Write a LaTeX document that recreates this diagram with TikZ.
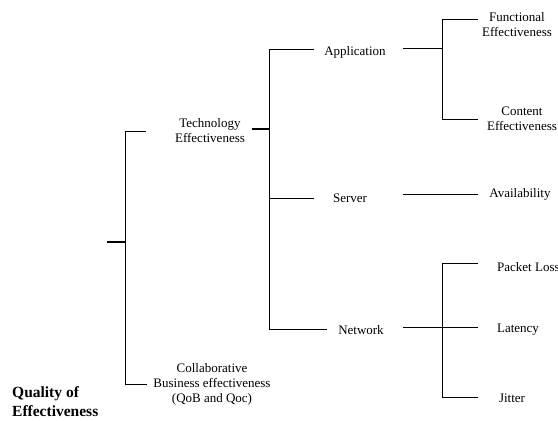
\documentclass[tikz,border=0pt]{standalone}
\usepackage{fontspec}
\setmainfont{Liberation Serif}
\begin{document}
\begin{tikzpicture}[x=1pt,y=-1pt,
  lbl/.style={font=\fontsize{13}{15}\selectfont, align=center, inner sep=0pt},
  ttl/.style={font=\fontsize{15.5}{19}\selectfont\bfseries, align=left, inner sep=0pt, anchor=west},
  link/.style={line width=0.9pt},
  stub/.style={line width=1.6pt}]
\useasboundingbox (0,0) rectangle (558,421);

% labels
\node[lbl] (tech) at (210,131) {Technology\\Effectiveness};
\node[lbl] (collab) at (212,384) {Collaborative\\Business effectiveness\\(QoB and Qoc)};
\node[ttl] (qoe) at (12,402) {Quality of\\Effectiveness};
\node[lbl] (app) at (355,52) {Application};
\node[lbl] (srv) at (350,198) {Server};
\node[lbl] (net) at (361,330) {Network};
\node[lbl] (func) at (517,25) {Functional\\Effectiveness};
\node[lbl] (cont) at (522,119) {Content\\Effectiveness};
\node[lbl] (avail) at (520,194) {Availability};
\node[lbl, anchor=west] (ploss) at (497,267) {Packet Loss};
\node[lbl] (lat) at (518,330) {Latency};
\node[lbl] (jit) at (512,398) {Jitter};

% bracket points
\coordinate (r0) at (107,242); \coordinate (r1) at (125,242);
\coordinate (rt) at (125,131); \coordinate (rb) at (125,384);
\coordinate (rte) at (146,131); \coordinate (rbe) at (147,384);

\coordinate (t0) at (252,129); \coordinate (t1) at (269,129);
\coordinate (ta) at (269,49); \coordinate (ts) at (269,198); \coordinate (tn) at (269,329);
\coordinate (tae) at (314,49); \coordinate (tse) at (314,198); \coordinate (tne) at (327,329);

\coordinate (a0) at (403,48); \coordinate (a1) at (442,48);
\coordinate (af) at (442,19); \coordinate (ac) at (442,119);
\coordinate (afe) at (478,19); \coordinate (ace) at (478,119);

\coordinate (s0) at (403,194); \coordinate (s1) at (478,194);

\coordinate (n0) at (403,327); \coordinate (n1) at (442,327);
\coordinate (np) at (442,263); \coordinate (nj) at (442,397);
\coordinate (npe) at (478,263); \coordinate (nle) at (478,327); \coordinate (nje) at (478,397);

% root bracket
\draw[stub] (r0) -- (r1);
\draw[link] (rte) -- (rt) -- (rb) -- (rbe);

% technology bracket
\draw[stub] (t0) -- (t1);
\draw[link] (tae) -- (ta) -- (tn) -- (tne);
\draw[link] (ts) -- (tse);

% application bracket
\draw[link] (a0) -- (a1);
\draw[link] (afe) -- (af) -- (ac) -- (ace);

% server link
\draw[link] (s0) -- (s1);

% network bracket
\draw[link] (n0) -- (n1);
\draw[link] (npe) -- (np) -- (nj) -- (nje);
\draw[link] (n1) -- (nle);
\end{tikzpicture}
\end{document}
